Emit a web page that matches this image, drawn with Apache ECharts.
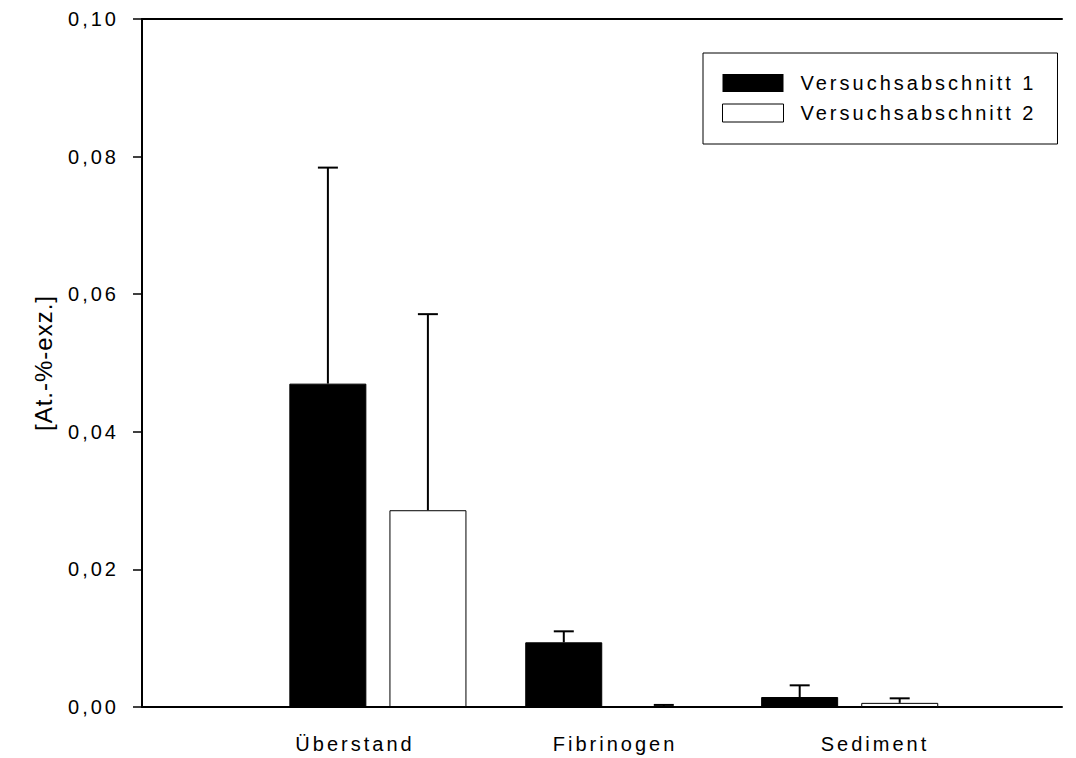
<!DOCTYPE html>
<html>
<head>
<meta charset="utf-8">
<script src="https://cdn.jsdelivr.net/npm/echarts@6/dist/echarts.min.js"></script>
<style>
  html, body { margin: 0; padding: 0; background: #fff; }
  #chart { width: 1076px; height: 758px; }
  #chart svg text { letter-spacing: 3px; }
</style>
</head>
<body>
<div id="chart"></div>
<script>
// ---- data ----
const categories = ['Überstand', 'Fibrinogen', 'Sediment'];
const groupPos = [1, 2, 3];
const seriesNames = ['Versuchsabschnitt 1', 'Versuchsabschnitt 2'];
const v1 = [0.0470, 0.0094, 0.00145];
const v2 = [0.0286, 0.0001, 0.0006];
const err1 = [0.0314, 0.0016, 0.0017];
const err2 = [0.0285, 0.0002, 0.00066];
const yTickLabels = ['0,00', '0,02', '0,04', '0,06', '0,08', '0,10'];
const yAxisName = '[At.-%-exz.]';

const FONT = "'Liberation Sans', Arial, sans-serif";

const chart = echarts.init(document.getElementById('chart'), null, { renderer: 'svg' });

function errSeries(name, vals, errs, offset) {
  return {
    name: name,
    type: 'custom',
    xAxisIndex: 0,
    yAxisIndex: 0,
    z: 5,
    encode: { x: 0, y: [1, 2] },
    data: groupPos.map((p, i) => [p, vals[i], vals[i] + errs[i]]),
    renderItem: function (params, api) {
      const x = api.value(0);
      const b = api.coord([x, api.value(1)]);
      const t = api.coord([x, api.value(2)]);
      const cx = b[0] + offset;
      const st = { stroke: '#000', lineWidth: 2 };
      return {
        type: 'group',
        children: [
          { type: 'line', shape: { x1: cx, y1: b[1], x2: cx, y2: t[1] }, style: st },
          { type: 'line', shape: { x1: cx - 10, y1: t[1], x2: cx + 10, y2: t[1] }, style: st }
        ]
      };
    }
  };
}

const option = {
  backgroundColor: '#fff',
  animation: false,
  textStyle: { fontFamily: FONT, color: '#000' },
  grid: [
    { left: 142, right: 14, top: 19, bottom: 51 },
    { left: 225, right: 71, top: 19, bottom: 51 }
  ],
  legend: {
    left: 703,
    top: 53,
    orient: 'vertical',
    selectedMode: false,
    itemWidth: 61,
    itemHeight: 18,
    itemGap: 10,
    padding: [20, 78, 21, 19],
    borderColor: '#000',
    borderWidth: 1,
    borderRadius: 0,
    textStyle: { fontFamily: FONT, fontSize: 20, color: '#000', padding: [0, 0, 0, 12] },
    data: [
      { name: seriesNames[0], icon: 'rect', itemStyle: { color: '#000', borderWidth: 0 } },
      { name: seriesNames[1], icon: 'rect', itemStyle: { color: '#fff', borderColor: '#000', borderWidth: 1 } }
    ]
  },
  xAxis: [
    {
      type: 'value', gridIndex: 0, min: 0, max: 3.9, position: 'bottom',
      axisLine: { show: true, lineStyle: { color: '#000', width: 2 } },
      axisTick: { show: false }, axisLabel: { show: false }, splitLine: { show: false }
    },
    {
      type: 'value', gridIndex: 0, min: 0, max: 3.9, position: 'top',
      axisLine: { show: true, lineStyle: { color: '#000', width: 2 } },
      axisTick: { show: false }, axisLabel: { show: false }, splitLine: { show: false }
    },
    {
      type: 'category', gridIndex: 1, data: categories, position: 'bottom',
      axisLine: { show: false }, axisTick: { show: false }, splitLine: { show: false },
      axisLabel: { fontFamily: FONT, fontSize: 20, color: '#000', margin: 27 }
    }
  ],
  yAxis: [
    {
      type: 'value', gridIndex: 0, min: 0, max: 0.1, interval: 0.02,
      name: yAxisName, nameLocation: 'middle', nameGap: 87, nameRotate: 90,
      nameTextStyle: { fontFamily: FONT, fontSize: 24, color: '#000' },
      axisLine: { show: true, lineStyle: { color: '#000', width: 2 } },
      axisTick: { show: true, inside: false, length: 9, lineStyle: { color: '#000', width: 1.5 } },
      axisLabel: {
        fontFamily: FONT, fontSize: 20, color: '#000', margin: 23,
        formatter: function (val, idx) { return yTickLabels[idx]; }
      },
      splitLine: { show: false }
    },
    {
      type: 'value', gridIndex: 1, min: 0, max: 0.1, show: false
    }
  ],
  series: [
    {
      name: seriesNames[0], type: 'bar', xAxisIndex: 0, yAxisIndex: 0,
      barWidth: 77, barGap: '30%',
      itemStyle: { color: '#000', borderColor: '#000', borderWidth: 1 },
      data: groupPos.map((p, i) => [p, v1[i]])
    },
    {
      name: seriesNames[1], type: 'bar', xAxisIndex: 0, yAxisIndex: 0,
      barWidth: 77, barGap: '30%',
      itemStyle: { color: '#fff', borderColor: '#000', borderWidth: 1 },
      data: groupPos.map((p, i) => [p, v2[i]])
    },
    errSeries(seriesNames[0], v1, err1, -50),
    errSeries(seriesNames[1], v2, err2, 50)
  ]
};

function tweakNameSpacing() {
  document.querySelectorAll('#chart svg text').forEach(function (t) {
    if (t.textContent === yAxisName) t.style.letterSpacing = '1px';
  });
}
chart.on('finished', tweakNameSpacing);
chart.setOption(option);
tweakNameSpacing();
</script>
</body>
</html>
